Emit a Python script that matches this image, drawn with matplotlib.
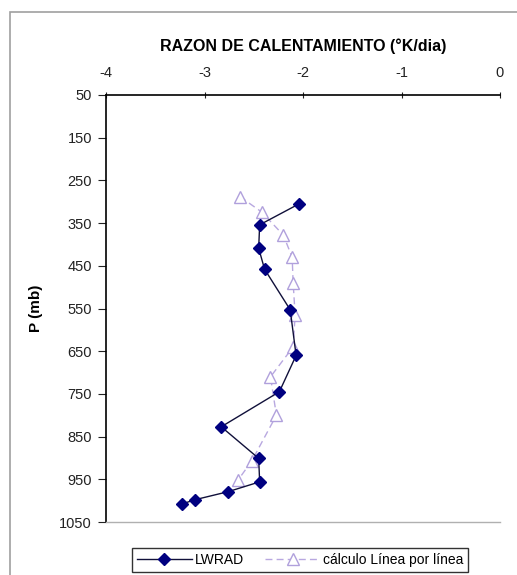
import matplotlib
matplotlib.use("Agg")
import matplotlib.pyplot as plt
from matplotlib.patches import Rectangle

# Data
lwrad_p = [305, 354, 409, 458, 553, 660, 745, 827, 901, 956, 979, 998, 1008]
lwrad_x = [-2.04, -2.44, -2.45, -2.39, -2.13, -2.07, -2.24, -2.83, -2.45, -2.44, -2.76, -3.10, -3.23]
lbl_p = [288, 324, 378, 430, 490, 565, 640, 710, 800, 907, 952]
lbl_x = [-2.64, -2.42, -2.20, -2.11, -2.10, -2.08, -2.10, -2.33, -2.27, -2.52, -2.66]
x_ticks = [-4, -3, -2, -1, 0]
y_ticks = [50, 150, 250, 350, 450, 550, 650, 750, 850, 950, 1050]

plt.rcParams['font.family'] = ['Liberation Sans', 'DejaVu Sans']

W, H = 517, 575
fig = plt.figure(figsize=(W / 100, H / 100), dpi=100)

# outer chart frame
fig.patches.append(Rectangle((10 / W, -0.05), 1.2, 1 - 12 / H + 0.05,
                             transform=fig.transFigure, fill=False,
                             edgecolor='#a0a0a0', linewidth=1.2))

ax = fig.add_axes([106 / W, 1 - 522 / H, (500 - 106) / W, (522 - 95) / H])

ax.plot(lwrad_x, lwrad_p, color='#10103a', linewidth=1.0, marker='D',
        markersize=6, markerfacecolor='#000080', markeredgecolor='#000080',
        label='LWRAD', zorder=3)
ax.plot(lbl_x, lbl_p, color='#b8a8e0', linewidth=1.0, linestyle=(0, (5, 3)),
        marker='^', markersize=8, markerfacecolor='white',
        markeredgecolor='#b0a0dc', label='cálculo Línea por línea', zorder=2)

ax.set_xlim(-4, 0)
ax.set_ylim(1050, 50)
ax.set_xticks(x_ticks)
ax.set_yticks(y_ticks)
ax.set_xticklabels([str(t) for t in x_ticks])
ax.set_yticklabels([str(t) for t in y_ticks])
ax.xaxis.tick_top()
ax.xaxis.set_label_position('top')
ax.tick_params(axis='x', direction='inout', length=5, labelsize=10.5,
               pad=8, colors='#222222')
ax.tick_params(axis='y', direction='out', length=6, labelsize=10.5,
               pad=4, colors='#222222')

for s in ['left', 'top']:
    ax.spines[s].set_color('black')
    ax.spines[s].set_linewidth(1.2)
ax.spines['right'].set_visible(False)
ax.spines['bottom'].set_color('#b0b0b0')
ax.spines['bottom'].set_linewidth(1.0)

ax.set_xlabel('RAZON DE CALENTAMIENTO (°K/dia)', fontsize=11.5,
              fontweight='bold', labelpad=11)
ax.set_ylabel('P (mb)', fontsize=11, fontweight='bold', labelpad=12)

leg = fig.legend(loc='center', bbox_to_anchor=(300 / W, 1 - 560 / H),
                 ncol=2, fontsize=10, frameon=True, fancybox=False,
                 edgecolor='black', handlelength=4.0, columnspacing=1.5,
                 borderpad=0.35, handletextpad=0.2)
leg.get_frame().set_linewidth(1.0)

fig.savefig('out.png', dpi=100)
